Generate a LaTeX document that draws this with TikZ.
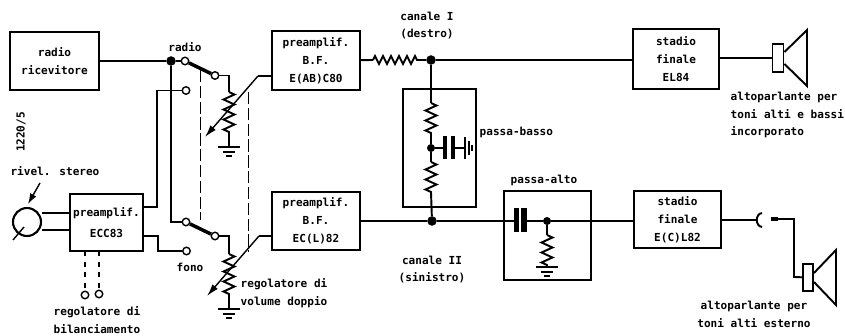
\documentclass[tikz,border=0pt]{standalone}
\usepackage{fontspec}
\setmainfont{DejaVu Sans Mono}
\usetikzlibrary{arrows.meta,decorations.pathmorphing}
\tikzset{
  blk/.style={draw,line width=1.2pt,inner sep=0pt,align=center},
  lbl/.style={inner sep=0pt,align=left},
  contact/.style={draw,circle,fill=white,line width=.8pt,inner sep=0pt,minimum size=.15cm},
  dot/.style={draw,circle,fill=black,inner sep=0pt,minimum size=.16cm},
  res/.style={decorate,decoration={zigzag,segment length=.2cm,amplitude=.11cm}},
  gang/.style={line width=.5pt,dash pattern=on 7pt off 2pt},
  wire/.style={line width=1.1pt},
  gnd/.pic={\draw[line width=1.1pt] (-11,0)--(11,0) (-6,5)--(6,5);\draw[line width=1.4pt] (-3,9)--(3,9);},
}
\begin{document}
\begin{tikzpicture}[x=.02cm,y=-.02cm,>=Latex,line width=.8pt,
    every node/.append style={font=\fontsize{6.3}{10.2}\bfseries\selectfont}]
    \useasboundingbox (0,0) rectangle (845,335);
    % blocks
    \node[blk,minimum width=1.78cm,minimum height=1.16cm] (ricev) at (54.5,61) {radio\\ricevitore};
    \node[blk,minimum width=1.76cm,minimum height=1.18cm] (preT) at (316,60.5) {preamplif.\\B.F.\\E(AB)C80};
    \node[blk,minimum width=1.76cm,minimum height=1.16cm] (preB) at (316,221) {preamplif.\\B.F.\\EC(L)82};
    \node[blk,minimum width=1.46cm,minimum height=1.14cm] (preS) at (106.5,222.5) {preamplif.\\[2pt]ECC83};
    \node[blk,minimum width=1.72cm,minimum height=1.2cm] (finT) at (676,59) {stadio\\finale\\EL84};
    \node[blk,minimum width=1.74cm,minimum height=1.14cm] (finB) at (677.5,219.5) {stadio\\finale\\E(C)L82};
    \node[blk,minimum width=1.46cm,minimum height=2.36cm] (basso) at (439.5,148) {};
    \node[blk,minimum width=1.74cm,minimum height=1.78cm] (alto) at (547.5,235.5) {};
    % switch contacts
    \node[contact] (r1) at (185,61) {};
    \node[contact] (r2) at (186,90.5) {};
    \node[contact] (rout) at (215,75.5) {};
    \node[contact] (f1) at (186,222) {};
    \node[contact] (f2) at (186.5,251) {};
    \node[contact] (fout) at (215,236) {};
    \node[contact] (b1) at (85,295) {};
    \node[contact] (b2) at (99,294) {};
    \node[draw,circle,line width=1.2pt,inner sep=0pt,minimum size=.56cm] (pick) at (27,222) {};
    % junctions
    \node[dot] (jin) at (171,61) {};
    \node[dot] (jT) at (431,60) {};
    \node[dot] (jB) at (432,221) {};
    \node[dot,minimum size=.13cm] (jmid) at (431,148) {};
    \node[dot,minimum size=.13cm] (jalto) at (547,221) {};
    \coordinate (pt1) at (229,92);
    \coordinate (pt2) at (229,133);
    \coordinate (pb1) at (229,254);
    \coordinate (pb2) at (229,295);
    \coordinate (gt) at (229,147);
    \coordinate (gb) at (229,309);
    % input wiring
    \draw[line width=1.5pt] (ricev) -- (jin) -- (r1);
    \draw[wire] (jin) -- (171,222) -- (f1);
    \draw[wire] (r2) -- (157,90.5) -- (157,207) -- (preS.east |- 0,207);
    \draw[wire] (preS.east |- 0,236) -- (158,236) -- (158,251) -- (f2);
    \draw[wire] (pick.east |- 0,213) -- (preS.west |- 0,213);
    \draw[wire] (pick.east |- 0,230) -- (preS.west |- 0,230);
    \draw[line width=2pt] (r1) -- (rout);
    \draw[line width=2pt] (f1) -- (fout);
    % volume pots
    \draw[wire] (rout) -- (229,75.5) -- (pt1);
    \draw[wire] (pt2) -- (gt);
    \draw[wire,res] (pt1) -- (pt2);
    \draw[wire] (fout) -- (229,236) -- (pb1);
    \draw[wire] (pb2) -- (gb);
    \draw[wire,res] (pb1) -- (pb2);
    \pic at (gt) {gnd};
    \pic at (gb) {gnd};
    \draw[wire] (preT.west |- 0,76) -- (258,76);
    \draw[-{Latex[length=7pt,width=4pt]}] (258,76) -- (205,137);
    \draw[wire] (preB.west |- 0,236) -- (259,236);
    \draw[-{Latex[length=7pt,width=4pt]}] (259,236) -- (207,296);
    \draw[gang] (200,70) -- (200,220);
    \draw[gang] (248,92) -- (248,252);
    % balance
    \draw[line width=1.2pt,dashed] (85,251) -- (b1);
    \draw[line width=1.2pt,dashed] (99,251) -- (b2);
    % pickup
    \draw (13,240) -- (24,227);
    \draw[-{Latex[length=6pt,width=4pt]}] (40,183) -- (28,204);
    % channel I
    \coordinate (rTa) at (373,60);
    \coordinate (rTb) at (417,60);
    \draw[wire] (preT) -- (rTa);
    \draw[wire,decorate,decoration={zigzag,segment length=.16cm,amplitude=.08cm}] (rTa) -- (rTb);
    \draw[wire] (rTb) -- (jT);
    \draw[wire] (jT) -- (finT.west |- jT);
    % low pass
    \coordinate (lp1) at (431,103);
    \coordinate (lp2) at (431,133);
    \coordinate (lp3) at (431,162);
    \coordinate (lp4) at (431,192);
    \draw[wire] (jT) -- (lp1);
    \draw[wire,res] (lp1) -- (lp2);
    \draw[wire] (lp2) -- (jmid) -- (lp3);
    \draw[wire,res] (lp3) -- (lp4);
    \draw[wire] (lp4) -- (jB);
    \draw[wire] (jmid) -- (445,148);
    \draw[line width=2.8pt] (445,136) -- (445,159);
    \draw[line width=2.8pt] (453,136) -- (453,159);
    \draw[wire] (453,148) -- (465,148);
    \draw (465,137) -- (465,159);
    \draw (469,141) -- (469,155);
    \draw (472,145) -- (472,151);
    % channel II
    \coordinate (cA) at (518,221);
    \coordinate (cB) at (524,221);
    \draw[wire] (preB) -- (jB) -- (cA);
    \draw[wire] (cB) -- (jalto) -- (finB.west |- jalto);
    \draw[line width=3pt] (516.5,208) -- (516.5,232);
    \draw[line width=3pt] (524,208) -- (524,232);
    \coordinate (ha1) at (547,235);
    \coordinate (ha2) at (547,267);
    \draw[wire] (jalto) -- (ha1);
    \draw[wire,res] (ha1) -- (ha2);
    \pic at (ha2) {gnd};
    % speakers
    \node[draw,line width=1.1pt,fill=white,inner sep=0pt,minimum width=.22cm,minimum height=.56cm] (spT) at (778,58) {};
    \node[draw,line width=1.1pt,fill=white,inner sep=0pt,minimum width=.2cm,minimum height=.54cm] (spB) at (808,277.5) {};
    \draw[line width=1.1pt] (spT.east |- 0,52) -- (807,30) -- (807,86) -- (spT.east |- 0,64);
    \draw[line width=1.1pt] (spB.east |- 0,273) -- (836,250) -- (836,305) -- (spB.east |- 0,282);
    \draw[wire] (finT.east |- spT) -- (spT);
    % jack
    \coordinate (jack) at (756,220);
    \coordinate (plug) at (771,219);
    \draw[wire] (finB.east |- jack) -- (jack);
    \draw[wire] (762,213) .. controls (755,214) and (755,226) .. (762,227);
    \draw[line width=2.8pt] (plug) -- ++(7,0);
    \draw[wire] (plug) -- (794,219) -- (794,277) -- (spB);
    % labels
    \node[lbl] (tradio) at (185,47) {radio};
    \node[lbl] (tfono) at (190,267) {fono};
    \node[lbl,rotate=90] (tcode) at (21,132) {1220/5};
    \node[lbl] (tpick) at (55,171) {rivel. stereo};
    \node[lbl,align=center] (tbal) at (97,320) {regolatore di\\bilanciamento};
    \node[lbl,anchor=west] (tvol) at (240,293) {regolatore di\\volume doppio};
    \node[lbl,align=center] (tcanT) at (427,25.5) {canale I\\(destro)};
    \node[lbl,align=center] (tcanB) at (432,269.5) {canale II\\(sinistro)};
    \node[lbl,anchor=west] (tbasso) at (479,132) {passa-basso};
    \node[lbl] (talto) at (544,180) {passa-alto};
    \node[lbl,anchor=west] (tspT) at (730,115) {altoparlante per\\toni alti e bassi\\incorporato};
    \node[lbl,align=center] (tspB) at (754,314.5) {altoparlante per\\toni alti esterno};
\end{tikzpicture}
\end{document}
